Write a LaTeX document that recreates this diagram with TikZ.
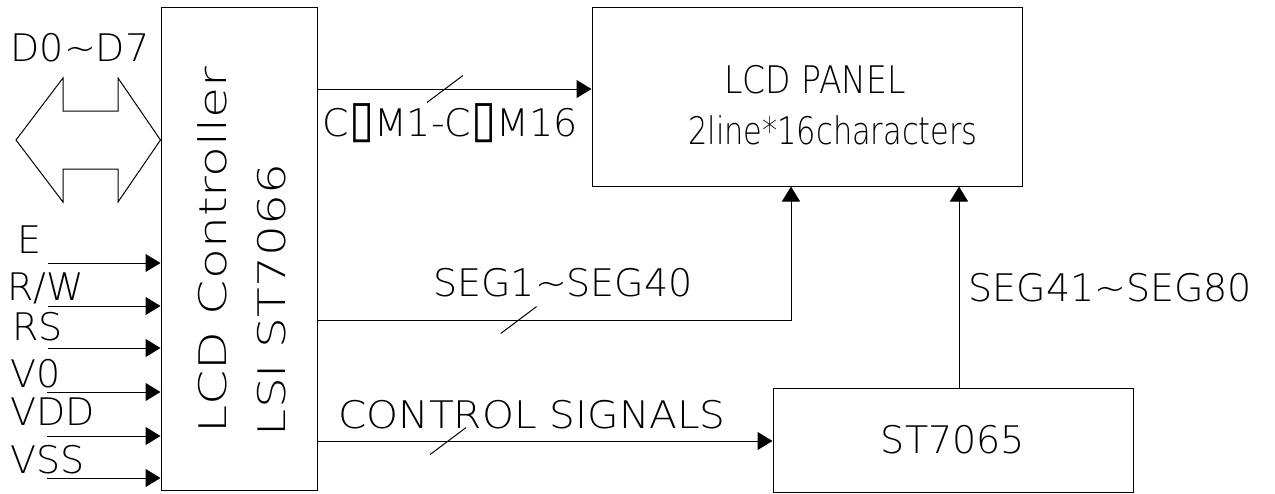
\documentclass[tikz,border=0pt]{standalone}
\usepackage{fontspec}
\setmainfont{DejaVu Sans ExtraLight}
\newfontfamily\symfont{DejaVu Sans}
\usetikzlibrary{arrows.meta,positioning}

\tikzset{
  block/.style={draw, line width=0.5pt, inner sep=0pt},
  sig/.style={line width=0.5pt, -{Triangle[length=7.5pt,width=9pt]}},
  busslash/.style={inner sep=0pt, minimum width=18pt, minimum height=13.5pt,
    path picture={\draw[-, line width=0.5pt] (path picture bounding box.south west) -- (path picture bounding box.north east);}},
  lbl/.style={inner sep=0pt}
}

\begin{document}
\begin{tikzpicture}[x=0.5pt, y=-0.5pt, font=\fontsize{19}{23}\selectfont]
	\useasboundingbox (0,0) rectangle (1275,493);

	% Define nodes
	\node[block, minimum width=78pt, minimum height=241.5pt]  (ctrl)  at (239,248.5) {};
	\node[block, minimum width=215pt, minimum height=89.5pt]  (panel) at (807,96.5) {};
	\node[block, minimum width=180pt, minimum height=52pt]    (drv)   at (953,440) {ST7065};

	\node[lbl, rotate=90] (ctrl_a) at (212,250) {\scalebox{1.33}[1]{LCD Controller}};
	\node[lbl, rotate=90] (ctrl_b) at (272,300) {\scalebox{1.28}[1]{LSI ST7066}};
	\node[lbl] (panel_a) at (815,80) {\scalebox{0.87}[1]{LCD PANEL}};
	\node[lbl] (panel_b) at (833,130) {\scalebox{0.8}[1]{2line*16characters}};

	% Data bus
	\node[lbl] (bus) at (80,48) {D0\textasciitilde D7};
	\draw[line width=0.5pt] (16,140) -- (63,78) -- (63,111) -- (118,111) -- (118,78)
		-- (ctrl.west |- 0,140) -- (118,202) -- (118,169) -- (63,169) -- (63,202) -- cycle;

	% Inputs
	\coordinate (in_e)   at (48,263);
	\coordinate (in_rw)  at (48,306);
	\coordinate (in_rs)  at (48,348);
	\coordinate (in_v0)  at (47,392);
	\coordinate (in_vdd) at (47,436);
	\coordinate (in_vss) at (47,478);
	\node[lbl, anchor=base west] (e)   at (17,253) {E};
	\node[lbl, anchor=base west] (rw)  at (7,300)  {R/W};
	\node[lbl, anchor=base west] (rs)  at (12,340) {RS};
	\node[lbl, anchor=base west] (v0)  at (10,387) {V0};
	\node[lbl, anchor=base west] (vdd) at (10,425) {VDD};
	\node[lbl, anchor=base west] (vss) at (10,473) {VSS};

	% Connect the nodes
	\draw[sig] (in_e)   -- (in_e -| ctrl.west);
	\draw[sig] (in_rw)  -- (in_rw -| ctrl.west);
	\draw[sig] (in_rs)  -- (in_rs -| ctrl.west);
	\draw[sig] (in_v0)  -- (in_v0 -| ctrl.west);
	\draw[sig] (in_vdd) -- (in_vdd -| ctrl.west);
	\draw[sig] (in_vss) -- (in_vss -| ctrl.west);

	\draw[sig] (ctrl.east |- 0,89) -- node[busslash, pos=0.465] (com_s) {} (panel.west |- 0,89);
	\draw[sig] (ctrl.east |- 0,320) -| node[busslash, pos=0.2125] (seg_s) {} (791,0 |- panel.south);
	\draw[sig] (959,0 |- drv.north) -- (959,0 |- panel.south);
	\draw[sig] (ctrl.east |- 0,441) -- node[busslash, pos=0.287] (ctl_s) {} (drv.west |- 0,441);

	% Connector labels
	\node[lbl] (com) at (450,123) {C{\symfont\scalebox{1.2}[1.35]{▯}}M1-C{\symfont\scalebox{1.2}[1.35]{▯}}M16};
	\node[lbl] (seg_lo) at (563,283) {SEG1\textasciitilde SEG40};
	\node[lbl, anchor=west] (seg_hi) at (968,288) {SEG41\textasciitilde SEG80};
	\node[lbl] (ctl) at (532,415) {\scalebox{1.07}[1]{CONTROL SIGNALS}};

\end{tikzpicture}
\end{document}
